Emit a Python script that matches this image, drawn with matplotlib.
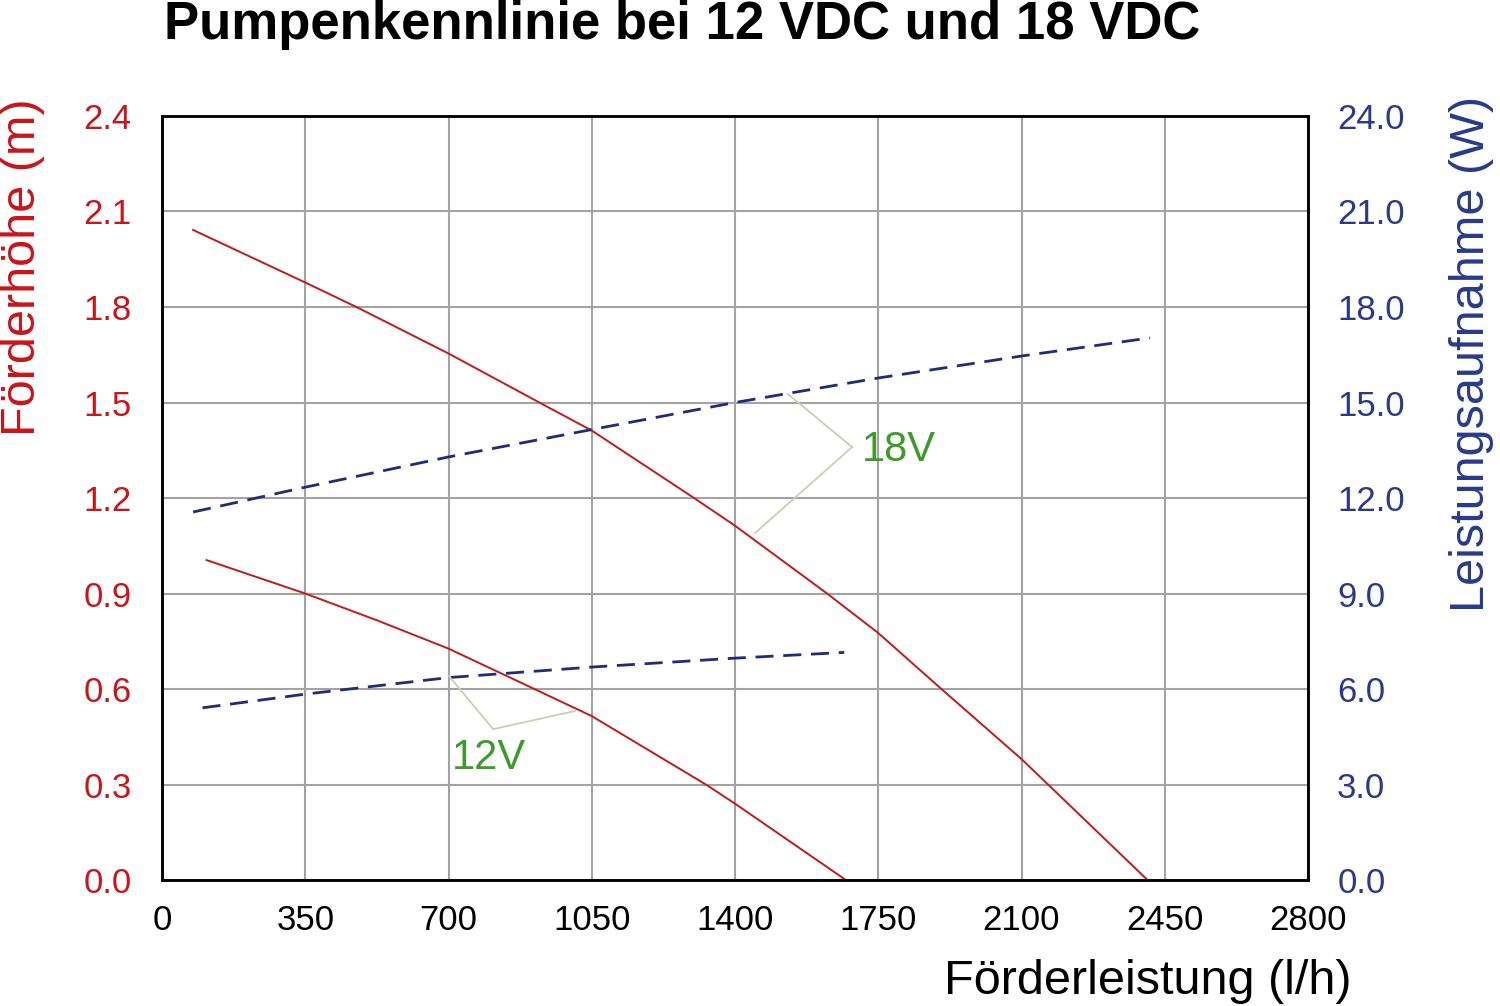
import matplotlib
matplotlib.use("Agg")
import matplotlib.pyplot as plt
from matplotlib.ticker import FormatStrFormatter

plt.rcParams['font.family'] = ['Liberation Sans', 'DejaVu Sans']

# ---- data ----
flow_head_18 = [76, 350, 475, 700, 922, 1050, 1300, 1400, 1625, 1750, 1900, 2100, 2165, 2408]
head_18 = [2.042, 1.877, 1.8, 1.654, 1.5, 1.412, 1.2, 1.113, 0.9, 0.776, 0.605, 0.38, 0.3, 0.0]

flow_head_12 = [109, 350, 525, 700, 910, 1050, 1329, 1400, 1671]
head_12 = [1.005, 0.9, 0.816, 0.727, 0.6, 0.515, 0.3, 0.24, 0.0]

flow_pow_18 = [76, 350, 700, 1050, 1400, 1750, 2100, 2414]
pow_18 = [11.56, 12.34, 13.29, 14.15, 15.0, 15.77, 16.46, 17.03]

flow_pow_12 = [99, 350, 700, 1050, 1400, 1667]
pow_12 = [5.41, 5.84, 6.36, 6.69, 6.97, 7.15]

x_ticks = [0, 350, 700, 1050, 1400, 1750, 2100, 2450, 2800]
head_ticks = [0.0, 0.3, 0.6, 0.9, 1.2, 1.5, 1.8, 2.1, 2.4]
power_ticks = [0.0, 3.0, 6.0, 9.0, 12.0, 15.0, 18.0, 21.0, 24.0]

title = "Pumpenkennlinie bei 12 VDC und 18 VDC"
xlabel = "Förderleistung (l/h)"
ylabel_left = "Förderhöhe (m)"
ylabel_right = "Leistungsaufnahme (W)"

# label annotation geometry (in flow / head units)
lab18_text = "18V"
lab18_pos = (1710, 1.351)
lab18_vertex = (1686, 1.360)
lab18_ends = [(1529, 1.527), (1449, 1.090)]
lab12_text = "12V"
lab12_pos = (708, 0.383)
lab12_vertex = (809, 0.474)
lab12_ends = [(701, 0.641), (1009, 0.531)]

RED = '#c41a1a'
RED_TXT = '#c8161b'
NAVY = '#1f2c7c'
NAVY_TXT = '#283a8c'
GREEN = '#3f9a2d'
LEADER = '#c9cfb0'

fig = plt.figure(figsize=(15, 10.06), dpi=100)
ax = fig.add_axes([0.108, 0.1252, 0.764, 0.7595])
ax2 = ax.twinx()

ax.set_xlim(0, 2800)
ax.set_ylim(0, 2.4)
ax2.set_ylim(0, 24)

ax.set_xticks(x_ticks)
ax.set_yticks(head_ticks)
ax2.set_yticks(power_ticks)
ax.yaxis.set_major_formatter(FormatStrFormatter('%.1f'))
ax2.yaxis.set_major_formatter(FormatStrFormatter('%.1f'))

ax.grid(True, color='#a3a3a3', linewidth=1.5)
ax.set_axisbelow(True)

for a in (ax, ax2):
    for s in a.spines.values():
        s.set_linewidth(1.8)
        s.set_color('black')

ax.tick_params(axis='x', length=0, pad=17, labelsize=25, colors='black')
ax.tick_params(axis='y', length=0, pad=22, labelsize=25, labelcolor=RED_TXT)
ax2.tick_params(axis='y', length=0, pad=21, labelsize=25, labelcolor=NAVY_TXT)

# head curves (red, left axis)
ax.plot(flow_head_18, head_18, color=RED, lw=1.4, zorder=3, solid_joinstyle='round')
ax.plot(flow_head_12, head_12, color=RED, lw=1.4, zorder=3, solid_joinstyle='round')

# power curves (navy dashed, right axis)
ax2.plot(flow_pow_18, pow_18, color=NAVY, lw=2.0, linestyle=(0, (6.5, 3.5)), zorder=3)
ax2.plot(flow_pow_12, pow_12, color=NAVY, lw=2.0, linestyle=(0, (6.5, 3.5)), zorder=3)

# annotations
for vertex, ends, pos, txt in [(lab18_vertex, lab18_ends, lab18_pos, lab18_text),
                                (lab12_vertex, lab12_ends, lab12_pos, lab12_text)]:
    for e in ends:
        ax2.plot([vertex[0], e[0]], [vertex[1] * 10, e[1] * 10], color=LEADER, lw=1.3, zorder=4)
    ax2.text(pos[0], pos[1] * 10, txt, color=GREEN, fontsize=30, ha='left', va='center', zorder=5)

fig.text(0.4547, 0.9612, title, fontsize=38, fontweight='bold', ha='center', va='baseline', color='black')
fig.text(0.9013, 0.024, xlabel, fontsize=35, ha='right', va='center', color='black')
fig.text(0.0147, 0.902, ylabel_left, fontsize=35, rotation=90, ha='center', va='top', color=RED_TXT)
fig.text(0.981, 0.905, ylabel_right, fontsize=35, rotation=90, ha='center', va='top', color=NAVY_TXT)

fig.savefig('out.png', dpi=100)
